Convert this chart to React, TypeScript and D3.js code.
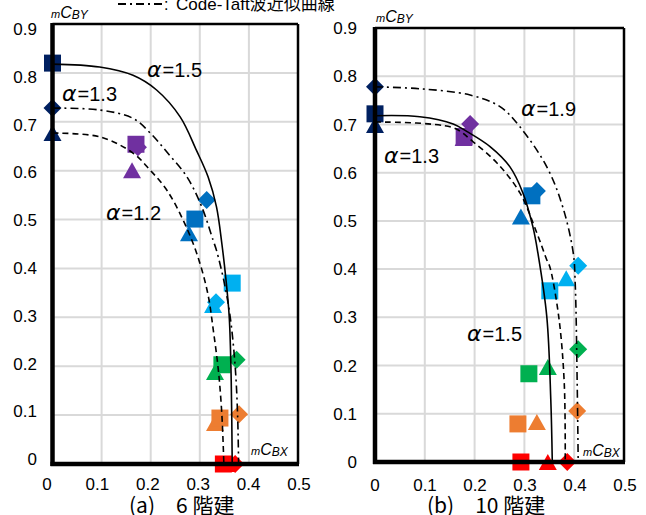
import React from "react";
import * as d3 from "d3";

// ---------- shared axes ----------
const xTicks = [0, 0.1, 0.2, 0.3, 0.4, 0.5];
const xTickLabels = ["0", "0.1", "0.2", "0.3", "0.4", "0.5"];
const yTicks = [0, 0.1, 0.2, 0.3, 0.4, 0.5, 0.6, 0.7, 0.8, 0.9];
const yTickLabels = ["0", "0.1", "0.2", "0.3", "0.4", "0.5", "0.6", "0.7", "0.8", "0.9"];
// marker colours: one per level (top to bottom)
const levelColors = ["#002060", "#7030A0", "#0070C0", "#00B0F0", "#00B050", "#ED7D31", "#FF0000"];

// ---------- panel (a) 6 階建 ----------
const aSquareX = [0, 0.170, 0.290, 0.366, 0.345, 0.341, 0.348];
const aSquareY = [0.82, 0.654, 0.501, 0.370, 0.203, 0.094, 0];
const aTriangleX = [0, 0.162, 0.278, 0.327, 0.331, 0.331, 0.355];
const aTriangleY = [0.677, 0.601, 0.472, 0.325, 0.188, 0.084, 0];
const aDiamondX = [0, 0.174, 0.314, 0.333, 0.375, 0.380, 0.372];
const aDiamondY = [0.728, 0.648, 0.54, 0.331, 0.213, 0.102, 0];
const aSolidCurve: [number, number][] = [
  [0, 0.818], [0.096, 0.812], [0.164, 0.795], [0.212, 0.765], [0.26, 0.71], [0.293, 0.642],
  [0.317, 0.587], [0.334, 0.526], [0.345, 0.45], [0.353, 0.38], [0.360, 0.30], [0.364, 0.17], [0.366, 0],
];
const aDashDotCurve: [number, number][] = [
  [0, 0.728], [0.097, 0.724], [0.164, 0.707], [0.199, 0.677], [0.233, 0.638], [0.274, 0.587],
  [0.304, 0.526], [0.327, 0.458], [0.334, 0.437], [0.350, 0.37], [0.362, 0.30], [0.372, 0.2], [0.377, 0.1], [0.379, 0],
];
const aDashCurve: [number, number][] = [
  [0, 0.677], [0.097, 0.669], [0.164, 0.636], [0.199, 0.601], [0.233, 0.56], [0.266, 0.499],
  [0.294, 0.43], [0.316, 0.35], [0.328, 0.27], [0.338, 0.19], [0.345, 0.1], [0.349, 0],
];
const aAlphaValues = ["1.5", "1.3", "1.2"];

// ---------- panel (b) 10 階建 ----------
const bSquareX = [0, 0.179, 0.315, 0.351, 0.309, 0.287, 0.293];
const bSquareY = [0.722, 0.675, 0.552, 0.355, 0.183, 0.079, 0];
const bTriangleX = [0, 0.178, 0.293, 0.384, 0.347, 0.325, 0.347];
const bTriangleY = [0.699, 0.672, 0.509, 0.381, 0.197, 0.083, 0];
const bDiamondX = [0, 0.191, 0.325, 0.408, 0.408, 0.406, 0.386];
const bDiamondY = [0.778, 0.701, 0.562, 0.407, 0.234, 0.106, 0];
const bSolidCurve: [number, number][] = [
  [0, 0.718], [0.09, 0.716], [0.157, 0.701], [0.185, 0.685], [0.231, 0.654], [0.271, 0.612],
  [0.297, 0.558], [0.317, 0.488], [0.327, 0.434], [0.345, 0.301], [0.353, 0.129], [0.356, 0],
];
const bDashCurve: [number, number][] = [
  [0, 0.705], [0.157, 0.693], [0.197, 0.664], [0.245, 0.62], [0.291, 0.558], [0.325, 0.475],
  [0.345, 0.419], [0.351, 0.405], [0.369, 0.301], [0.38, 0.164], [0.382, 0],
];
const bDashDotCurve: [number, number][] = [
  [0, 0.778], [0.09, 0.774], [0.191, 0.761], [0.251, 0.737], [0.291, 0.695], [0.345, 0.612],
  [0.377, 0.529], [0.398, 0.434], [0.402, 0.371], [0.406, 0.164], [0.408, 0],
];
const bAlphaValues = ["1.9", "1.3", "1.5"];

const legendText = "Code-Taft波近似曲線";
const captionA = "(a)\u30006 階建";
const captionB = "(b)\u300010 階建";

// ---------- layout (pixels) ----------
const W = 646;
const H = 515;
const FONT = "'Liberation Sans', Arial, 'Noto Sans CJK JP', sans-serif";
const DASH = "6,4";
const DASHDOT = "8,4,2,4";

type PanelSpec = {
  xRange: [number, number];
  yRange: [number, number];
  xLabelRange: [number, number];
  yLabelRange: [number, number];
  yLabelRight: number;
  xLabelBaseline: number;
  squares: [number[], number[]];
  triangles: [number[], number[]];
  diamonds: [number[], number[]];
  solid: [number, number][];
  dash: [number, number][];
  dashdot: [number, number][];
  alphas: string[];
  alphaPos: [number, number][];
  yTitle: [number, number];
  xTitle: [number, number];
  caption: string;
  captionX: number;
};

const panels: PanelSpec[] = [
  {
    xRange: [52.5, 298],
    yRange: [464, 24],
    xLabelRange: [47, 299],
    yLabelRange: [459, 29],
    yLabelRight: 37,
    xLabelBaseline: 490,
    squares: [aSquareX, aSquareY],
    triangles: [aTriangleX, aTriangleY],
    diamonds: [aDiamondX, aDiamondY],
    solid: aSolidCurve,
    dash: aDashCurve,
    dashdot: aDashDotCurve,
    alphas: aAlphaValues,
    alphaPos: [[147, 77], [62, 101], [106, 220]],
    yTitle: [51, 18],
    xTitle: [251, 455],
    caption: captionA,
    captionX: 129,
  },
  {
    xRange: [375, 624],
    yRange: [462, 28],
    xLabelRange: [375, 625],
    yLabelRange: [462, 28],
    yLabelRight: 357,
    xLabelBaseline: 491,
    squares: [bSquareX, bSquareY],
    triangles: [bTriangleX, bTriangleY],
    diamonds: [bDiamondX, bDiamondY],
    solid: bSolidCurve,
    dash: bDashCurve,
    dashdot: bDashDotCurve,
    alphas: bAlphaValues,
    alphaPos: [[521, 116], [384, 163], [467, 341]],
    yTitle: [376, 22],
    xTitle: [583, 456],
    caption: captionB,
    captionX: 427,
  },
];

const SQ = 8.5;
const DI = 9;
const TRW = 9;
const TRH = 8;
const squarePath = `M${-SQ},${-SQ}H${SQ}V${SQ}H${-SQ}Z`;
const diamondPath = `M0,${-DI}L${DI},0L0,${DI}L${-DI},0Z`;
const trianglePath = `M0,${-TRH}L${TRW},${TRH}L${-TRW},${TRH}Z`;

function Panel({ p }: { p: PanelSpec }) {
  const x = d3.scaleLinear().domain([0, 0.5]).range(p.xRange);
  const y = d3.scaleLinear().domain([0, 0.9]).range(p.yRange);
  const xl = d3.scaleLinear().domain([0, 0.5]).range(p.xLabelRange);
  const yl = d3.scaleLinear().domain([0, 0.9]).range(p.yLabelRange);
  const line = d3
    .line<[number, number]>()
    .x((d) => x(d[0]))
    .y((d) => y(d[1]))
    .curve(d3.curveCatmullRom.alpha(0.5));
  const [x0, x1] = p.xRange;
  const [y0, y1] = p.yRange;

  const markers = (xs: number[], ys: number[], path: string, key: string) =>
    xs.map((v, i) => (
      <path
        key={key + i}
        d={path}
        transform={`translate(${x(v)},${y(ys[i])})`}
        fill={levelColors[i]}
      />
    ));

  return (
    <g>
      {/* grid */}
      {xTicks.map((t) => (
        <line key={"gx" + t} x1={x(t)} x2={x(t)} y1={y0} y2={y1} stroke="#d9d9d9" strokeWidth={2} />
      ))}
      {yTicks.map((t) => (
        <line key={"gy" + t} x1={x0} x2={x1} y1={y(t)} y2={y(t)} stroke="#d9d9d9" strokeWidth={2} />
      ))}
      {/* frame */}
      <line x1={x0} x2={x1} y1={y1} y2={y1} stroke="#000" strokeWidth={2.5} />
      <line x1={x1} x2={x1} y1={y1} y2={y0} stroke="#000" strokeWidth={2.5} />
      {/* tick labels */}
      {yTicks.map((t, i) => (
        <text
          key={"yl" + t}
          x={p.yLabelRight}
          y={yl(t)}
          dy="0.36em"
          textAnchor="end"
          fontSize={17}
          fontFamily={FONT}
          fill="#000"
        >
          {yTickLabels[i]}
        </text>
      ))}
      {xTicks.map((t, i) => (
        <text
          key={"xl" + t}
          x={xl(t)}
          y={p.xLabelBaseline}
          textAnchor="middle"
          fontSize={17}
          fontFamily={FONT}
          fill="#000"
        >
          {xTickLabels[i]}
        </text>
      ))}
      {/* markers */}
      {markers(p.triangles[0], p.triangles[1], trianglePath, "t")}
      {markers(p.diamonds[0], p.diamonds[1], diamondPath, "d")}
      {markers(p.squares[0], p.squares[1], squarePath, "s")}
      {/* curves */}
      <path d={line(p.solid) || ""} fill="none" stroke="#000" strokeWidth={1.6} />
      <path d={line(p.dash) || ""} fill="none" stroke="#000" strokeWidth={1.6} strokeDasharray={DASH} />
      <path d={line(p.dashdot) || ""} fill="none" stroke="#000" strokeWidth={1.6} strokeDasharray={DASHDOT} />
      {/* axes (thick) */}
      <line x1={x0} x2={x0} y1={y1 - 1} y2={y0 + 2} stroke="#000" strokeWidth={4.5} />
      <line x1={x0 - 2} x2={x1 + 1} y1={y0} y2={y0} stroke="#000" strokeWidth={4.5} />
      {/* alpha labels */}
      {p.alphas.map((a, i) => (
        <text key={"a" + i} x={p.alphaPos[i][0]} y={p.alphaPos[i][1]} fontSize={20} fontFamily={FONT} fill="#000">
          <tspan fontStyle="italic" fontSize={22} fontFamily="'DejaVu Sans', sans-serif">α</tspan>
          <tspan dx={1}>={a}</tspan>
        </text>
      ))}
      {/* axis titles */}
      <text x={p.yTitle[0]} y={p.yTitle[1]} fontFamily={FONT} fontStyle="italic" fill="#000">
        <tspan fontSize={11}>m</tspan>
        <tspan fontSize={16}>C</tspan>
        <tspan fontSize={12} dy={1}>BY</tspan>
      </text>
      <text x={p.xTitle[0]} y={p.xTitle[1]} fontFamily={FONT} fontStyle="italic" fill="#000">
        <tspan fontSize={11}>m</tspan>
        <tspan fontSize={16}>C</tspan>
        <tspan fontSize={12} dy={1}>BX</tspan>
      </text>
      {/* caption */}
      <text x={p.captionX} y={513} fontSize={21} fontFamily="'Noto Sans CJK JP', sans-serif" fill="#000">
        {p.caption}
      </text>
    </g>
  );
}

export default function App() {
  return (
    <svg
      width={W}
      height={H}
      style={{ position: "absolute", left: 0, top: 0, background: "#fff" }}
    >
      <rect x={0} y={0} width={W} height={H} fill="#fff" />
      {/* legend (clipped at top) */}
      <line x1={118} x2={162} y1={4} y2={4} stroke="#000" strokeWidth={2} strokeDasharray={DASHDOT} />
      <text x={164} y={10} fontSize={16} fontFamily={FONT} fill="#000">:</text>
      <text x={176} y={10} fontSize={17} fontFamily={FONT} fill="#000">{legendText}</text>
      {panels.map((p, i) => (
        <Panel key={i} p={p} />
      ))}
    </svg>
  );
}
